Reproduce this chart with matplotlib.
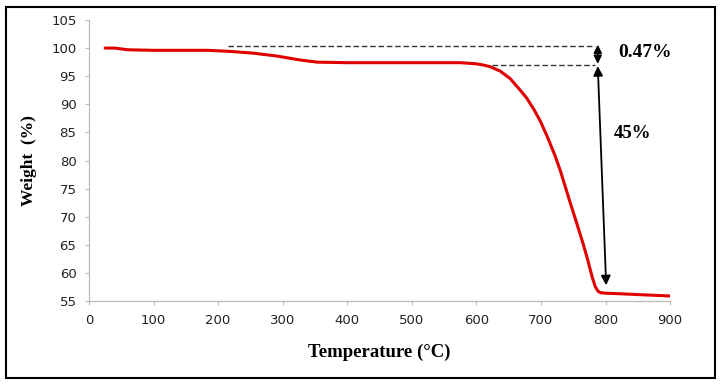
import matplotlib.pyplot as plt
from matplotlib.patches import Rectangle

# TGA curve
temp = [25, 40, 60, 100, 150, 185, 220, 254, 290, 326, 353, 400, 450, 500, 550, 575,
        600, 610, 621, 637, 652, 665, 678, 689, 699, 710, 722, 730, 745, 755, 765,
        772, 779, 784, 788, 792, 800, 822, 860, 900]
weight = [100.0, 100.0, 99.7, 99.6, 99.6, 99.6, 99.4, 99.1, 98.6, 97.9, 97.5, 97.4, 97.4,
          97.4, 97.4, 97.4, 97.2, 97.0, 96.7, 95.9, 94.6, 92.9, 91.1, 89.1, 87.0, 84.2,
          80.8, 78.2, 72.6, 69.0, 65.3, 62.5, 59.4, 57.6, 56.8, 56.5, 56.4, 56.3, 56.1,
          55.9]

xticks = [0, 100, 200, 300, 400, 500, 600, 700, 800, 900]
yticks = [55, 60, 65, 70, 75, 80, 85, 90, 95, 100, 105]

top_level = 100.4
mid_level = 97.0
low_level = 57.8
loss1 = "0.47%"
loss2 = "45%"

fig = plt.figure(figsize=(7.21, 3.84), dpi=100)
ax = fig.add_axes([0.1234, 0.216, 0.806, 0.732])

ax.plot(temp, weight, color="#e00000", lw=2.2, solid_capstyle="round",
        solid_joinstyle="round")

# dashed guide lines
ax.plot([215, 784], [top_level, top_level], color="#333333", lw=1, ls=(0, (4, 2)))
ax.plot([624, 784], [mid_level, mid_level], color="#333333", lw=1, ls=(0, (4, 2)))

# small double arrow
ax.annotate("", xy=(788, top_level + 0.2), xytext=(788, mid_level + 0.2),
            arrowprops=dict(arrowstyle="<|-|>", color="black", lw=1.2,
                            mutation_scale=12, shrinkA=0, shrinkB=0))
# big arrow
ax.annotate("", xy=(801, low_level), xytext=(788, mid_level - 0.2),
            arrowprops=dict(arrowstyle="<|-|>", color="black", lw=1.3,
                            mutation_scale=14, shrinkA=0, shrinkB=0))

ax.text(820, 99.3, loss1, fontsize=14, fontweight="bold", family="Liberation Serif",
        va="center", ha="left")
ax.text(812, 84.8, loss2, fontsize=13.5, fontweight="bold", family="Liberation Serif",
        va="center", ha="left")

ax.set_xlim(0, 900)
ax.set_ylim(55, 105)
ax.set_xticks(xticks)
ax.set_yticks(yticks)
ax.tick_params(axis="both", labelsize=9.5, colors="#bbbbbb", labelcolor="#222222",
               length=3, width=0.8, direction="out", pad=6)
for s in ["top", "right"]:
    ax.spines[s].set_visible(False)
for s in ["left", "bottom"]:
    ax.spines[s].set_color("#bbbbbb")
    ax.spines[s].set_linestyle((0, (1, 1)))
    ax.spines[s].set_linewidth(0.9)

ax.set_xlabel("Temperature (\u00b0C)", fontsize=13.5, fontweight="bold",
              family="Liberation Serif", labelpad=12)
ax.set_ylabel("Weight  (%)", fontsize=12.5, fontweight="bold",
              family="Liberation Serif", labelpad=10)

# outer frame
fig.patches.append(Rectangle((0.008, 0.015), 0.984, 0.968, transform=fig.transFigure,
                             fill=False, edgecolor="black", lw=1.5))

fig.savefig("out.png", dpi=100)
